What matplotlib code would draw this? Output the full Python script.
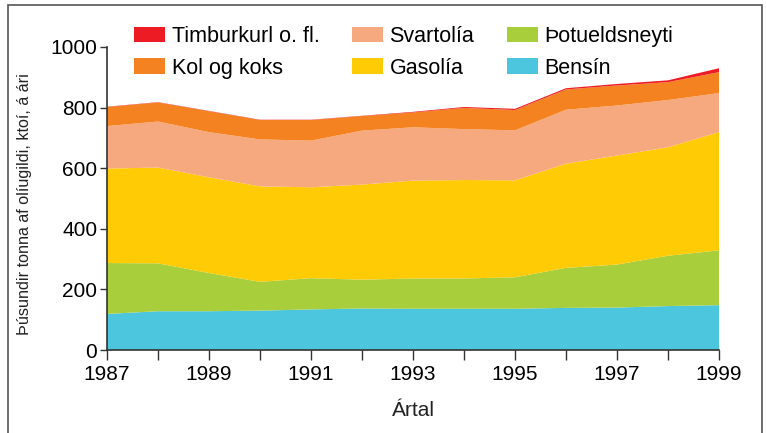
import matplotlib
matplotlib.use('Agg')
import matplotlib.pyplot as plt
from matplotlib.patches import Rectangle

plt.rcParams['font.family'] = ['Liberation Sans', 'DejaVu Sans']

years = [1987, 1988, 1989, 1990, 1991, 1992, 1993, 1994, 1995, 1996, 1997, 1998, 1999]

# ktoí per year
bensin = [119, 128, 128, 130, 134, 137, 136, 136, 136, 139, 140, 145, 148]
thotueldsneyti = [168, 158, 126, 95, 103, 95, 100, 100, 104, 132, 142, 166, 181]
gasolia = [312, 316, 316, 315, 300, 314, 323, 325, 320, 344, 360, 358, 390]
svartolia = [140, 152, 149, 155, 154, 178, 176, 168, 165, 178, 165, 156, 129]
kol_og_koks = [63, 63, 69, 64, 68, 48, 49, 70, 67, 67, 66, 59, 69]
timburkurl = [1, 1, 1, 1, 1, 1, 2, 3, 4, 4, 5, 6, 13]

series = [bensin, thotueldsneyti, gasolia, svartolia, kol_og_koks, timburkurl]
labels = ['Bensín', 'Þotueldsneyti', 'Gasolía', 'Svartolía', 'Kol og koks', 'Timburkurl o. fl.']
colors = ['#4cc6de', '#a8ce3b', '#ffcb05', '#f6a97e', '#f58220', '#ed1c24']

xticks = list(range(1987, 2000))
xticklabels = [str(y) if y % 2 == 1 else '' for y in xticks]
yticks = [0, 200, 400, 600, 800, 1000]

fig = plt.figure(figsize=(7.67, 4.33), dpi=100)
ax = fig.add_axes([107/767, 1 - 350/433, 612/767, 303/433])

polys = ax.stackplot(years, *series, colors=colors, labels=labels, linewidth=0)

ax.set_xlim(1987, 1999)
ax.set_ylim(0, 1000)
ax.set_xticks(xticks)
ax.set_xticklabels(xticklabels, fontsize=15)
ax.set_yticks(yticks)
ax.set_yticklabels([str(t) for t in yticks], fontsize=15)
ax.tick_params(axis='x', direction='out', length=7, width=1, color='#333333', pad=4)
ax.tick_params(axis='y', direction='out', length=5, width=1, color='#333333', pad=2)
for s in ['top', 'right']:
    ax.spines[s].set_visible(False)
for s in ['left', 'bottom']:
    ax.spines[s].set_color('#333333')
    ax.spines[s].set_linewidth(1.2)
ax.set_xlabel('Ártal', fontsize=15, color='#222222', labelpad=12)
ax.set_ylabel('Þúsundir tonna af olíugildi, ktoí, á ári', fontsize=11.6, color='#222222', labelpad=7)
ax.yaxis.set_label_coords(-0.122, 0.48)

# legend order as in the picture (column-major)
order = [5, 4, 3, 2, 1, 0]
handles = [polys[i] for i in order]
fig.legend(handles, [labels[i] for i in order], ncol=3, loc='upper left',
           bbox_to_anchor=(134/767, 1 - 26/433), frameon=False, fontsize=15.5,
           handlelength=1.45, handleheight=0.75, handletextpad=0.3,
           columnspacing=1.5, labelspacing=0.5, borderaxespad=0, borderpad=0)

fig.patches.append(Rectangle((8/767, -0.05), 754/767, 1.05 - 5/433, transform=fig.transFigure,
                             fill=False, edgecolor='#555555', linewidth=1.2))

fig.savefig('out.png', dpi=100)
